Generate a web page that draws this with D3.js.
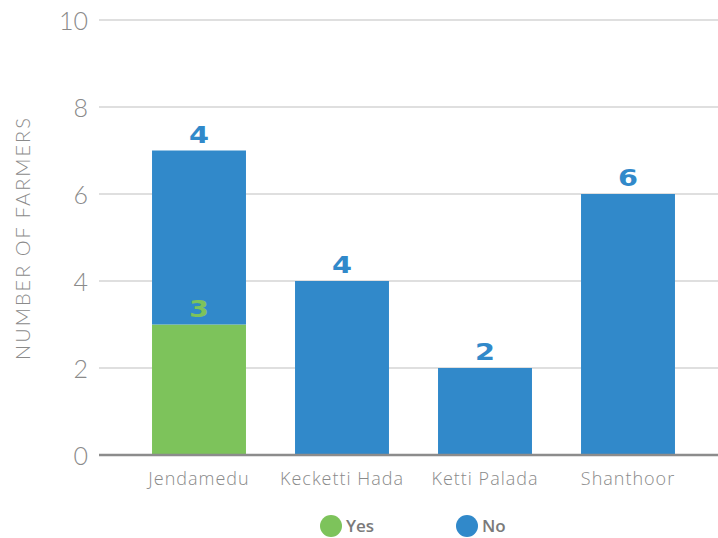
<!DOCTYPE html>
<html>
<head>
<meta charset="utf-8">
<script src="https://cdn.jsdelivr.net/npm/d3@7"></script>
<style>
  html, body { margin: 0; padding: 0; background: #fff; }
  svg { display: block; }
</style>
</head>
<body>
<svg id="chart" width="718" height="538"></svg>
<script>
// Farmers per village, split by answer
const villages = ["Jendamedu", "Kecketti Hada", "Ketti Palada", "Shanthoor"];
const yesCounts = [3, 0, 0, 0];
const noCounts = [4, 4, 2, 6];
const yTicks = [0, 2, 4, 6, 8, 10];
const seriesNames = ["Yes", "No"];
const seriesColors = ["#7dc35b", "#3189ca"];

const svg = d3.select("#chart");
const plotLeft = 99, plotRight = 718;
const lightFont = "'Open Sans', Lato, sans-serif";

const x = d3.scaleBand()
  .domain(villages)
  .range([127.5, 699.5])
  .paddingInner(0.343)
  .paddingOuter(0.1715);

const y = d3.scaleLinear().domain([0, 10]).range([455, 20]);

// gridlines
svg.append("g")
  .selectAll("line")
  .data(yTicks.filter(t => t > 0))
  .join("line")
  .attr("x1", plotLeft).attr("x2", plotRight)
  .attr("y1", d => y(d)).attr("y2", d => y(d))
  .attr("stroke", "#d4d4d4").attr("stroke-width", 1.3);

// y tick labels
const yAxis = d3.axisLeft(y).tickValues(yTicks).tickSize(0).tickPadding(0);
const yG = svg.append("g").attr("transform", "translate(88,0)").call(yAxis);
yG.select(".domain").remove();
yG.selectAll("text")
  .attr("fill", "#8a8a8a")
  .attr("dy", "0.36em")
  .style("font-family", "Lato, 'Open Sans', sans-serif")
  .style("font-weight", 300)
  .style("font-size", "25px");

// y axis title
svg.append("text")
  .attr("transform", "translate(30,238) rotate(-90)")
  .attr("text-anchor", "middle")
  .attr("fill", "#8a8a8a")
  .style("font-family", "Lato, 'Open Sans', sans-serif")
  .style("font-weight", 300)
  .style("font-size", "20px")
  .style("letter-spacing", "2px")
  .text("NUMBER OF FARMERS");

// stacked bars
const rows = villages.map((v, i) => ({ village: v, Yes: yesCounts[i], No: noCounts[i] }));
const stacked = d3.stack().keys(seriesNames)(rows);

svg.append("g")
  .selectAll("g")
  .data(stacked)
  .join("g")
  .attr("fill", (d, i) => seriesColors[i])
  .selectAll("rect")
  .data(d => d.filter(s => s[1] - s[0] > 0))
  .join("rect")
  .attr("x", d => x(d.data.village))
  .attr("width", x.bandwidth())
  .attr("y", d => y(d[1]))
  .attr("height", d => y(d[0]) - y(d[1]));

// value labels, each just above its segment's top (widened bold digits)
svg.append("g")
  .selectAll("g")
  .data(stacked)
  .join("g")
  .attr("fill", (d, i) => seriesColors[i])
  .selectAll("text")
  .data(d => d.filter(s => s[1] - s[0] > 0))
  .join("text")
  .attr("transform", d => `translate(${x(d.data.village) + x.bandwidth() / 2},${y(d[1]) - 8}) scale(1.25,1)`)
  .attr("text-anchor", "middle")
  .style("font-family", "'DejaVu Sans', sans-serif")
  .style("font-weight", 900)
  .style("font-size", "23px")
  .text(d => d[1] - d[0]);

// baseline
svg.append("line")
  .attr("x1", plotLeft).attr("x2", plotRight)
  .attr("y1", y(0)).attr("y2", y(0))
  .attr("stroke", "#8c8c8c").attr("stroke-width", 2.5);

// category labels
const xAxis = d3.axisBottom(x).tickSize(0).tickPadding(0);
const xG = svg.append("g").attr("transform", "translate(0,485)").call(xAxis);
xG.select(".domain").remove();
xG.selectAll("text")
  .attr("dy", 0)
  .attr("fill", "#8a8a8a")
  .style("font-family", lightFont)
  .style("font-weight", 300)
  .style("font-size", "18px")
  .style("letter-spacing", "1px");

// legend
const legendX = [331, 467];
const legend = svg.append("g")
  .selectAll("g")
  .data(seriesNames)
  .join("g")
  .attr("transform", (d, i) => `translate(${legendX[i]},526)`);
legend.append("circle").attr("r", 11).attr("fill", (d, i) => seriesColors[i]);
legend.append("text")
  .attr("x", 15).attr("y", 6)
  .attr("fill", "#7a7a7a")
  .style("font-family", lightFont)
  .style("font-weight", 600)
  .style("font-size", "17px")
  .text(d => d);
</script>
</body>
</html>
